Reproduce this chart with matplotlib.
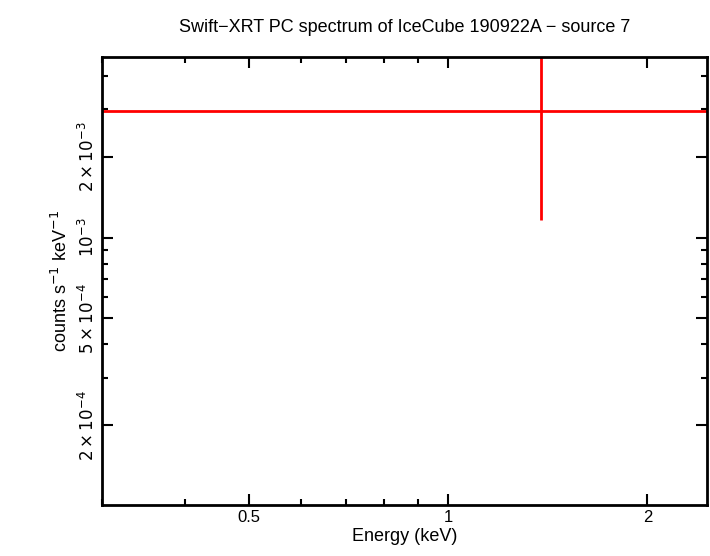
import matplotlib
matplotlib.use("Agg")
import matplotlib.pyplot as plt
from matplotlib.ticker import FixedLocator, NullFormatter

plt.rcParams["font.family"] = "Liberation Sans"

# data
energy = [1.38]
energy_lo = [0.30]
energy_hi = [2.46]
rate = [2.96e-3]
rate_err = [1.80e-3]

xticks = [0.5, 1, 2]
xtick_labels = ["0.5", "1", "2"]
yticks = [2e-4, 5e-4, 1e-3, 2e-3]
ytick_labels = [r"$2\times10^{-4}$", r"$5\times10^{-4}$", r"$10^{-3}$", r"$2\times10^{-3}$"]

fig = plt.figure(figsize=(7.10, 5.56), dpi=100)
ax = fig.add_axes([102/710, 1-505/556, 605/710, 448/556])

xerr = [[e - lo for e, lo in zip(energy, energy_lo)], [hi - e for e, hi in zip(energy, energy_hi)]]
ax.errorbar(energy, rate, xerr=xerr, yerr=rate_err, fmt="none", ecolor="red", elinewidth=2)

ax.set_xscale("log")
ax.set_yscale("log")
ax.set_xlim(0.30, 2.46)
ax.set_ylim(1.01e-4, 4.7e-3)

ax.xaxis.set_major_locator(FixedLocator(xticks))
ax.set_xticklabels(xtick_labels)
ax.xaxis.set_minor_locator(FixedLocator([0.3, 0.4, 0.6, 0.7, 0.8, 0.9]))
ax.xaxis.set_minor_formatter(NullFormatter())
ax.yaxis.set_major_locator(FixedLocator(yticks))
ax.set_yticklabels(ytick_labels, rotation=90, va="center")
minors = [m * 10.0**e for e in (-4, -3) for m in range(1, 10)]
ax.yaxis.set_minor_locator(FixedLocator(minors))
ax.yaxis.set_minor_formatter(NullFormatter())

ax.tick_params(which="both", direction="in", top=True, right=True, width=1.5, labelsize=12)
ax.tick_params(which="major", length=8)
ax.tick_params(which="minor", length=4)
for s in ax.spines.values():
    s.set_linewidth(2)

ax.set_xlabel("Energy (keV)", fontsize=13, labelpad=2)
ax.set_ylabel(r"counts s$^{-1}$ keV$^{-1}$", fontsize=13)
ax.set_title("Swift\u2212XRT PC spectrum of IceCube 190922A \u2212 source 7", fontsize=13, pad=18)

fig.savefig("out.png", dpi=100)
